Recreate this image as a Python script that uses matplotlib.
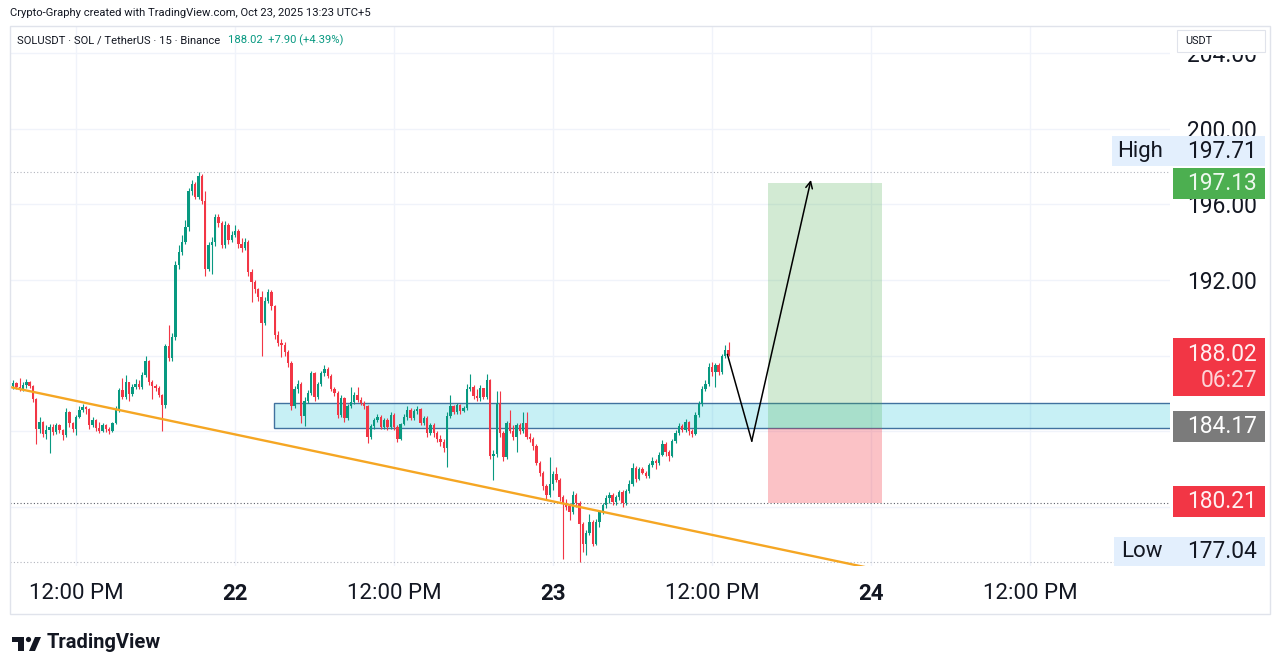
import numpy as np
import pandas as pd
import matplotlib
matplotlib.use('Agg')
import matplotlib.pyplot as plt
import matplotlib.dates as mdates
from matplotlib.patches import Rectangle, Polygon, Circle

plt.rcParams['font.family'] = ['Roboto', 'DejaVu Sans']

# SOLUSDT 15m candles, Binance, from Oct 21 07:15 to Oct 23 13:15 (UTC+5)
first_open = 186.40

closes = [
    186.55, 186.35, 186.20, 186.45, 186.60, 186.40, 185.70, 184.10, 184.50, 183.85,
    184.05, 184.20, 183.95, 184.30, 184.05, 183.80, 185.00, 184.40, 184.10, 184.75,
    185.10, 185.25, 185.15, 184.30, 184.60, 184.15, 184.00, 184.30, 184.10, 184.00,
    184.40, 185.10, 186.15, 185.80, 186.60, 185.95, 186.35, 186.50, 186.35, 186.95,
    187.70, 186.60, 186.40, 186.30, 185.90, 185.40, 188.50, 187.85, 189.00, 192.80,
    193.50, 194.00, 194.80, 196.70, 197.10, 196.40, 197.50, 196.20, 192.60, 193.85,
    194.00, 195.35, 195.00, 193.85, 194.90, 194.10, 194.40, 194.60, 193.90, 193.70,
    194.00, 192.40, 191.90, 191.50, 191.10, 189.70, 190.90, 191.35, 190.60, 189.10,
    188.65, 188.55, 188.20, 187.60, 185.30, 186.20, 186.50, 184.80, 185.60, 186.00,
    187.05, 185.80, 186.50, 187.05, 187.30, 186.90, 186.25, 186.00, 184.85, 185.75,
    184.70, 185.30, 185.55, 185.90, 185.65, 185.50, 185.30, 183.70, 184.25, 184.60,
    184.75, 184.20, 184.60, 184.20, 184.85, 184.20, 183.55, 184.35, 184.75, 185.10,
    184.70, 185.05, 185.15, 184.40, 184.70, 183.90, 184.30, 183.90, 183.60, 183.40,
    183.10, 184.80, 185.30, 185.00, 185.40, 185.05, 185.20, 186.20, 186.35, 185.85,
    185.75, 186.30, 185.80, 186.70, 182.70, 182.80, 185.50, 183.90, 182.60, 184.40,
    184.00, 183.70, 184.30, 184.00, 184.40, 183.70, 183.60, 183.20, 182.30, 181.80,
    181.10, 180.60, 181.20, 181.70, 181.40, 180.50, 180.20, 180.00, 179.70, 180.60,
    180.20, 179.05, 178.00, 178.60, 179.20, 178.00, 179.20, 179.70, 180.10, 180.45,
    180.60, 180.25, 180.50, 180.75, 180.20, 180.80, 181.20, 182.05, 181.45, 182.00,
    181.80, 181.60, 182.20, 182.40, 182.30, 182.75, 183.30, 182.90, 182.65, 183.45,
    183.90, 184.25, 184.05, 184.50, 184.00, 183.85, 184.85, 185.45, 186.25, 186.50,
    187.40, 187.10, 187.50, 187.10, 187.95, 188.30, 188.02,
]

highs = [
    186.70, 186.60, 186.80, 186.60, 186.75, 186.65, 186.45, 185.75, 184.75, 184.55,
    184.30, 184.35, 184.35, 184.45, 184.35, 184.10, 185.20, 185.05, 184.50, 184.85,
    185.30, 185.45, 185.30, 185.20, 184.75, 184.65, 184.50, 184.40, 184.35, 184.20,
    184.50, 185.30, 186.30, 186.80, 186.95, 186.60, 186.50, 186.75, 186.70, 187.10,
    187.95, 187.75, 186.70, 186.50, 186.40, 185.95, 188.60, 189.60, 189.20, 193.00,
    193.85, 194.40, 195.20, 196.90, 197.30, 197.20, 197.71, 197.60, 196.70, 194.00,
    194.30, 195.50, 195.50, 195.10, 195.10, 195.00, 194.60, 194.90, 194.70, 194.20,
    194.20, 194.10, 192.60, 192.00, 191.60, 191.40, 191.10, 191.50, 191.45, 190.70,
    189.30, 188.90, 188.70, 188.30, 187.70, 186.40, 186.70, 186.60, 185.80, 186.15,
    187.20, 187.10, 186.60, 187.20, 187.50, 187.40, 187.00, 186.35, 186.10, 185.90,
    185.80, 185.45, 186.35, 186.05, 186.35, 185.80, 185.60, 185.40, 184.35, 184.70,
    184.90, 184.85, 184.70, 184.70, 185.00, 184.95, 184.30, 184.45, 184.90, 185.30,
    185.20, 185.15, 185.30, 185.20, 184.80, 184.80, 184.40, 184.40, 184.00, 183.80,
    183.60, 185.00, 185.90, 185.40, 185.50, 185.45, 185.30, 186.50, 187.00, 186.45,
    186.20, 186.45, 186.30, 187.00, 186.75, 183.00, 186.10, 186.10, 184.00, 184.55,
    185.10, 184.30, 184.40, 184.40, 185.00, 185.00, 183.90, 183.70, 183.30, 182.40,
    181.90, 181.20, 182.60, 181.90, 182.10, 181.50, 180.60, 180.40, 180.10, 180.80,
    180.70, 180.30, 179.20, 178.75, 179.60, 179.30, 179.35, 179.80, 180.20, 180.60,
    180.75, 180.70, 180.60, 180.90, 180.85, 180.95, 181.40, 182.30, 182.15, 182.10,
    182.10, 181.90, 182.30, 182.60, 182.50, 182.90, 183.50, 183.40, 183.00, 183.60,
    184.05, 184.40, 184.35, 184.65, 184.55, 184.10, 185.00, 185.60, 186.40, 186.70,
    187.60, 187.65, 187.60, 187.60, 188.10, 188.55, 188.73,
]

lows = [
    186.20, 186.20, 186.10, 186.10, 186.30, 186.30, 185.55, 183.30, 183.90, 183.70,
    183.60, 182.85, 183.80, 183.85, 183.90, 183.50, 183.70, 184.20, 183.95, 183.80,
    184.70, 185.00, 184.90, 184.10, 184.20, 184.00, 183.90, 183.95, 183.95, 183.85,
    183.95, 184.35, 185.00, 185.70, 185.70, 185.60, 185.85, 186.20, 186.20, 186.25,
    186.85, 186.45, 185.70, 186.10, 185.80, 184.00, 185.20, 187.70, 187.70, 188.80,
    192.60, 193.30, 193.90, 194.60, 196.50, 196.30, 196.30, 196.00, 192.20, 192.50,
    192.30, 193.80, 194.80, 193.70, 193.70, 193.90, 194.00, 194.30, 193.70, 193.50,
    193.60, 192.20, 190.85, 191.30, 190.90, 188.00, 189.60, 190.80, 190.40, 188.90,
    188.50, 187.90, 188.00, 187.40, 185.10, 185.20, 186.00, 184.40, 184.25, 185.50,
    185.90, 185.60, 185.70, 186.40, 186.90, 186.80, 186.10, 185.85, 184.70, 184.75,
    184.50, 184.60, 185.20, 185.45, 185.55, 185.40, 185.15, 183.35, 183.60, 184.10,
    184.50, 184.10, 184.10, 184.05, 184.10, 184.05, 183.40, 183.50, 184.30, 184.60,
    184.60, 184.60, 184.90, 184.30, 184.30, 183.70, 183.80, 183.70, 183.40, 183.20,
    182.90, 182.10, 184.70, 184.90, 184.90, 184.90, 185.00, 185.10, 186.10, 185.70,
    185.60, 185.60, 185.70, 185.70, 182.50, 181.40, 182.60, 183.70, 182.40, 182.50,
    183.90, 183.50, 182.90, 183.85, 183.90, 183.60, 183.40, 183.00, 182.20, 181.60,
    180.90, 180.40, 180.50, 180.90, 181.30, 180.30, 177.20, 179.80, 179.30, 179.60,
    180.00, 177.04, 177.60, 177.45, 178.50, 177.90, 177.95, 178.90, 179.60, 179.90,
    180.20, 180.10, 180.10, 180.35, 180.00, 180.10, 180.70, 181.10, 181.30, 181.40,
    181.70, 181.50, 181.50, 182.10, 182.00, 182.20, 182.70, 182.70, 182.40, 182.60,
    183.35, 183.80, 183.95, 183.95, 183.80, 183.70, 183.80, 184.75, 185.35, 186.10,
    186.40, 186.90, 186.35, 186.95, 187.00, 187.85, 187.95,
]

start_time = '2025-10-21 07:15'
tick_times = ['2025-10-21 12:00', '2025-10-22 00:00', '2025-10-22 12:00',
              '2025-10-23 00:00', '2025-10-23 12:00', '2025-10-24 00:00',
              '2025-10-24 12:00']
tick_labels = ['12:00 PM', '22', '12:00 PM', '23', '12:00 PM', '24', '12:00 PM']
price_ticks = [180, 184, 188, 192, 196, 200, 204]

# drawings
zone_start = '2025-10-22 02:57'
zone_low, zone_high = 184.17, 185.48
trend_times = ['2025-10-21 07:01', '2025-10-23 23:33']
trend_prices = [186.33, 176.79]
path_times = ['2025-10-23 13:10', '2025-10-23 15:00', '2025-10-23 19:28']
path_prices = [188.05, 183.47, 197.30]
pos_start, pos_end = '2025-10-23 16:15', '2025-10-24 00:48'
entry, stop, target = 184.17, 180.21, 197.13
day_high, day_low = 197.71, 177.04
last_price = 188.02
countdown = '06:27'

UP = '#089981'
DOWN = '#f23645'
TXT = '#131722'


def dn(s):
    return mdates.date2num(pd.Timestamp(s).to_pydatetime())


times = pd.date_range(start_time, periods=len(closes), freq='15min')
x = mdates.date2num(times.to_pydatetime())
opens = np.array([first_open] + closes[:-1])
closes = np.array(closes)
colors = np.where(closes >= opens, UP, DOWN)

fig = plt.figure(figsize=(12.8, 6.72), dpi=100)
fig.patch.set_facecolor('white')

W, H = 1280, 672
pane_top, pane_bot, pane_left, pane_right = 26, 566, 10, 1170
ymax = 192 + (280 - pane_top) / 18.875
ymin = 192 - (pane_bot - 280) / 18.875

ax = fig.add_axes([pane_left / W, (H - pane_bot) / H,
                   (pane_right - pane_left) / W, (pane_bot - pane_top) / H])
ax.set_facecolor('none')
ax.set_xlim(dn('2025-10-21 07:01'), dn('2025-10-24 22:34'))
ax.set_ylim(ymin, ymax)
for s in ax.spines.values():
    s.set_visible(False)

ax.set_xticks([dn(t) for t in tick_times])
ax.set_xticklabels(tick_labels, fontsize=16, color=TXT)
for lbl in ax.get_xticklabels():
    if len(lbl.get_text()) == 2:
        lbl.set_fontweight('bold')
ax.tick_params(axis='x', length=0, pad=12)

# labels of 180 / 184 / 188 sit under the price boxes, so they stay hidden
hidden = (180, 184, 188)
ax.yaxis.tick_right()
ax.set_yticks(price_ticks)
ax.set_yticklabels(['' if p in hidden else f'{p:.2f}' for p in price_ticks],
                   fontsize=16.4, color=TXT)
ax.tick_params(axis='y', length=0, pad=12)
ax.grid(True, color='#f0f3fa', lw=1)
ax.set_axisbelow(True)

# demand zone
ax.add_patch(Rectangle((dn(zone_start), zone_low), 10, zone_high - zone_low,
                       facecolor=(0, 188 / 255, 212 / 255, 0.22),
                       edgecolor='#41729f', lw=1, zorder=1))

# long position tool
x0, x1 = dn(pos_start), dn(pos_end)
ax.add_patch(Rectangle((x0, entry), x1 - x0, target - entry,
                       facecolor=(76 / 255, 175 / 255, 80 / 255, 0.25),
                       edgecolor='none', zorder=2))
ax.add_patch(Rectangle((x0, stop), x1 - x0, entry - stop,
                       facecolor=(242 / 255, 54 / 255, 69 / 255, 0.3),
                       edgecolor='none', zorder=2))

# high / low / stop dotted lines
ax.axhline(day_high, color='#b2b5be', lw=0.8, ls=(0, (1, 2)), zorder=1)
ax.axhline(day_low, color='#b2b5be', lw=0.8, ls=(0, (1, 2)), zorder=1)
ax.axhline(stop, color='#5d606b', lw=0.8, ls=(0, (1, 2)), zorder=1)

# candles
bw = 0.72 / 96
ax.vlines(x, lows, highs, colors=colors, lw=0.8, zorder=3)
body_lo = np.minimum(opens, closes)
body_h = np.maximum(np.abs(closes - opens), 0.03)
ax.bar(x, body_h, bottom=body_lo, width=bw, color=colors, lw=0, zorder=3)

# trend line
ax.plot([dn(t) for t in trend_times], trend_prices, color='#f5a623',
        lw=1.7, zorder=4, solid_capstyle='butt')

# projected path
px = [dn(t) for t in path_times]
ax.plot(px[:2], path_prices[:2], color='black', lw=1.1, zorder=5)
ax.annotate('', xy=(px[2], path_prices[2]), xytext=(px[1], path_prices[1]),
            arrowprops=dict(arrowstyle='->', color='black', lw=1.1,
                            mutation_scale=12, shrinkA=0, shrinkB=0),
            zorder=5)

# price scale labels
ax_r = fig.add_axes([pane_right / W, (H - pane_bot) / H,
                     100 / W, (pane_bot - pane_top) / H])
ax_r.set_xlim(0, 100)
ax_r.set_ylim(ymin, ymax)
ax_r.axis('off')
ax_r.patch.set_visible(False)

px_u = 1 / 18.875  # one pixel in price units
LIGHT = '#e3effd'


def price_box(y0, y1, color, x_left=3, x_right=95):
    ax_r.add_patch(Rectangle((x_left, y0), x_right - x_left, y1 - y0,
                             facecolor=color, edgecolor='none', clip_on=False,
                             zorder=3))


# USDT currency box, with the white gap below it that clips 204.00
ax_r.add_patch(Rectangle((7, 203.9), 88, 0.25, facecolor='white',
                         edgecolor='none', clip_on=False, zorder=2))
ax_r.add_patch(Rectangle((7, 204.08), 88, 205.25 - 204.08, facecolor='white',
                         edgecolor='#e0e3eb', lw=0.8, clip_on=False, zorder=3))
ax_r.text(15, 204.66, 'USDT', fontsize=7.8, color=TXT, va='center', zorder=4)

# High
hc = 198.83
price_box(hc - 15 * px_u, hc + 15 * px_u, LIGHT, x_left=-58)
ax_r.text(-30, hc, 'High', fontsize=16, color=TXT, ha='center', va='center', zorder=4)
ax_r.text(87, hc, f'{day_high:.2f}', fontsize=16.4, color=TXT, ha='right',
          va='center', zorder=4)

# target
tc = 197.11
price_box(tc - 15.5 * px_u, tc + 15.5 * px_u, '#4caf50')
ax_r.text(87, tc, f'{target:.2f}', fontsize=16.4, color='#eef8ee', ha='right',
          va='center', zorder=4)

# last price + countdown
price_box(185.85, 188.93, DOWN)
ax_r.text(87, 188.03, f'{last_price:.2f}', fontsize=16.4, color='#fff0f1',
          ha='right', va='center', zorder=4)
ax_r.text(87, 186.70, countdown, fontsize=16.4, color='#fdd5d8',
          ha='right', va='center', zorder=4)

# entry
ec = 184.24
price_box(ec - 15.5 * px_u, ec + 15.5 * px_u, '#7b7b7b')
ax_r.text(87, ec, f'{entry:.2f}', fontsize=16.4, color='white', ha='right',
          va='center', zorder=4)

# stop
sc = 180.27
price_box(sc - 15.5 * px_u, sc + 15.5 * px_u, DOWN)
ax_r.text(87, sc, f'{stop:.2f}', fontsize=16.4, color='#fff0f1', ha='right',
          va='center', zorder=4)

# Low
lc = 177.59
price_box(ymin, lc + 15 * px_u, LIGHT, x_left=-56)
ax_r.text(-28, lc, 'Low', fontsize=16, color=TXT, ha='center', va='center', zorder=4)
ax_r.text(87, lc, f'{day_low:.2f}', fontsize=16.4, color=TXT, ha='right',
          va='center', zorder=4)

# overlay in pixel coordinates: frame, header, legend, logo
pix = fig.add_axes([0, 0, 1, 1], zorder=5)
pix.set_xlim(0, W)
pix.set_ylim(H, 0)
pix.axis('off')
pix.patch.set_visible(False)

pix.add_patch(Rectangle((9.5, 25.5), 1260.5, 588.5, facecolor='none',
                        edgecolor='#e0e3eb', lw=1))
pix.text(10, 13, 'Crypto-Graphy created with TradingView.com, Oct 23, 2025 13:23 UTC+5',
         fontsize=8.1, color=TXT, va='center')
pix.text(17, 40, 'SOLUSDT · SOL / TetherUS · 15 · Binance',
         fontsize=8.1, color=TXT, va='center')
pix.text(228, 40, '188.02  +7.90 (+4.39%)', fontsize=8.1, color=UP, va='center')

# TradingView logo
pix.add_patch(Rectangle((12, 637), 12, 5, facecolor=TXT, edgecolor='none'))
pix.add_patch(Rectangle((18, 637), 6, 14, facecolor=TXT, edgecolor='none'))
pix.add_patch(Circle((28.5, 639.5), 2.6, facecolor=TXT, edgecolor='none'))
pix.add_patch(Polygon([(29, 651), (35, 637), (41, 637), (35, 651)],
                      closed=True, facecolor=TXT, edgecolor='none'))
pix.text(47, 643, 'TradingView', fontsize=14.5, fontweight='bold', color=TXT,
         va='center')

fig.savefig('out.png', dpi=100, facecolor='white')
